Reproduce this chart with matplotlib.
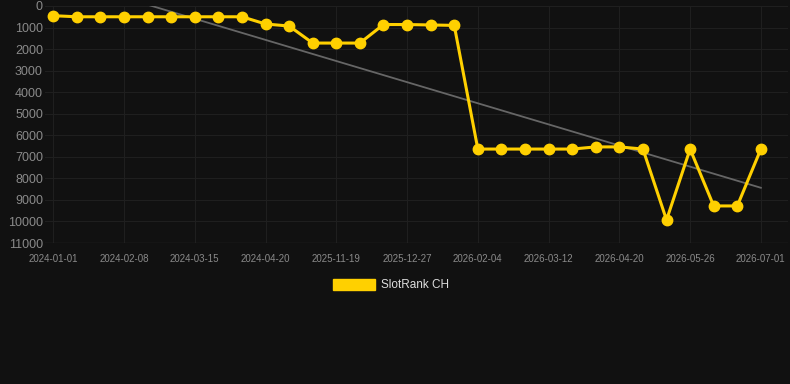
import numpy as np
import matplotlib.pyplot as plt
from matplotlib.patches import Patch

plt.rcParams['font.family'] = ['Liberation Sans', 'DejaVu Sans']

dates = ['2024-01-01', '', '', '2024-02-08', '', '', '2024-03-15', '', '',
         '2024-04-20', '', '', '2025-11-19', '', '', '2025-12-27', '', '',
         '2026-02-04', '', '', '2026-03-12', '', '', '2026-04-20', '', '',
         '2026-05-26', '', '', '2026-07-01']
rank = [450, 500, 500, 500, 500, 500, 500, 500, 500,
        835, 930, 1720, 1720, 1720, 860, 860, 880, 900,
        6640, 6640, 6640, 6640, 6640, 6540, 6540, 6640,
        9930, 6640, 9280, 9280, 6640]
yticks = list(range(0, 11001, 1000))

bg = '#111111'
gold = '#FFD000'

fig = plt.figure(figsize=(7.9, 3.84), dpi=100, facecolor=bg)
ax = fig.add_axes([45 / 790, 1 - 243 / 384, 743 / 790, 237 / 384])
ax.set_facecolor(bg)

x = np.arange(len(rank))
# trend line
k, b = np.polyfit(x, rank, 1)
ax.plot(x, k * x + b, color='#666666', lw=1.3, zorder=2)

ax.plot(x, rank, color=gold, lw=2.2, marker='o', markersize=7.5, zorder=3)

ax.set_xlim(-0.35, 31.15)
ax.set_ylim(11000, 0)
ax.set_yticks(yticks)
ax.set_yticklabels([str(t) for t in yticks], fontsize=9, color='#8a8a8a')
tick_pos = [i for i, d in enumerate(dates) if d]
ax.set_xticks(tick_pos)
ax.set_xticklabels([dates[i] for i in tick_pos], fontsize=7, color='#8a8a8a')
ax.tick_params(axis='y', length=0, pad=1.5)
ax.tick_params(axis='x', length=0, pad=8)
ax.grid(True, color='#1f1f1f', lw=0.8)
for s in ax.spines.values():
    s.set_visible(False)
ax.axhline(11000, color='#2a2a2a', lw=1)

fig.legend(handles=[Patch(facecolor=gold, edgecolor=gold, label='SlotRank CH')],
           loc='center', bbox_to_anchor=(0.495, 1 - 285 / 384), frameon=False,
           fontsize=8.5, labelcolor='#dddddd', handlelength=3.5, handleheight=1.1,
           handletextpad=0.5)

fig.savefig('out.png', dpi=100, facecolor=bg)
